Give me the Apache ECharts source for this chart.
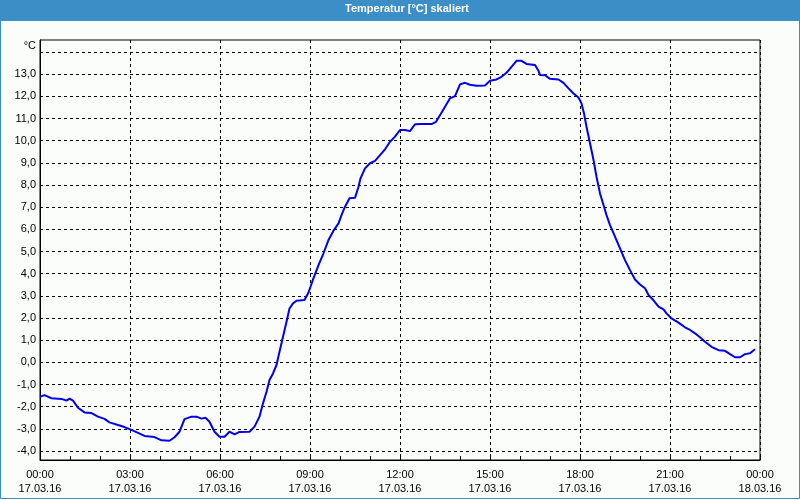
<!DOCTYPE html>
<html>
<head>
<meta charset="utf-8">
<script src="https://cdn.jsdelivr.net/npm/echarts@6/dist/echarts.min.js"></script>
<style>html,body{margin:0;padding:0;background:#fbfdfb;}#c{width:800px;height:500px;}</style>
</head>
<body>
<div id="c"></div>
<script>
// time in minutes since 17.03.16 00:00
const minutes = [0,9,23,43,53,59,66,76,89,103,116,129,139,156,169,183,196,209,229,243,259,269,279,289,303,313,323,331,339,349,359,369,379,389,399,419,429,439,446,453,459,466,473,479,486,493,499,506,513,529,537,547,557,567,577,587,597,603,610,619,630,637,641,650,660,670,680,690,700,710,720,730,740,750,763,783,792,800,810,820,830,840,850,860,873,890,900,913,923,933,943,953,963,973,990,997,1000,1010,1020,1037,1047,1057,1067,1077,1083,1088,1093,1100,1107,1113,1120,1127,1133,1140,1150,1160,1170,1180,1190,1200,1210,1217,1227,1237,1247,1253,1263,1277,1290,1300,1310,1320,1330,1343,1357,1370,1380,1390,1400,1410,1420,1430];
const temps = [-1.55,-1.48,-1.62,-1.65,-1.73,-1.64,-1.73,-2.05,-2.26,-2.29,-2.45,-2.55,-2.71,-2.83,-2.92,-3.05,-3.18,-3.32,-3.37,-3.52,-3.54,-3.38,-3.13,-2.56,-2.45,-2.45,-2.54,-2.50,-2.68,-3.13,-3.36,-3.36,-3.13,-3.25,-3.14,-3.13,-2.90,-2.45,-1.85,-1.33,-0.80,-0.50,-0.12,0.48,1.15,1.83,2.43,2.66,2.78,2.81,3.15,3.80,4.39,4.92,5.52,5.94,6.27,6.64,7.02,7.40,7.42,7.92,8.30,8.75,8.98,9.09,9.35,9.61,9.95,10.18,10.48,10.48,10.43,10.74,10.75,10.75,10.85,11.15,11.53,11.91,12.01,12.54,12.61,12.52,12.48,12.49,12.70,12.76,12.88,13.06,13.33,13.60,13.60,13.46,13.41,13.15,12.96,12.95,12.79,12.76,12.61,12.36,12.13,11.95,11.68,11.23,10.63,9.88,9.13,8.37,7.62,7.10,6.64,6.19,5.67,5.14,4.61,4.16,3.74,3.51,3.34,3.04,2.80,2.51,2.39,2.21,1.98,1.79,1.58,1.46,1.31,1.13,0.93,0.70,0.55,0.52,0.37,0.23,0.23,0.37,0.41,0.59];
const timeLabels = ['00:00','03:00','06:00','09:00','12:00','15:00','18:00','21:00','00:00'];
const dateLabels = ['17.03.16','17.03.16','17.03.16','17.03.16','17.03.16','17.03.16','17.03.16','17.03.16','18.03.16'];
const yTicks = [-4,-3,-2,-1,0,1,2,3,4,5,6,7,8,9,10,11,12,13];
const yGrid = [-4,-3,-2,-1,0,1,2,3,4,5,6,7,8,9,10,11,12,13,14];

const chart = echarts.init(document.getElementById('c'));
const FONT = '"Liberation Sans", Arial, sans-serif';
chart.setOption({
  animation: false,
  backgroundColor: '#fbfdfb',
  title: {
    text: 'Temperatur [°C] skaliert',
    left: 345, top: 3, padding: 0,
    textStyle: {color: '#ffffff', fontWeight: 'bold', fontSize: 11, fontFamily: FONT}
  },
  graphic: [
    {type: 'rect', z: -10, silent: true, shape: {x: 0, y: 0, width: 800, height: 21}, style: {fill: '#3c8fc6'}},
    {type: 'rect', z: -10, silent: true, shape: {x: 0.5, y: 0.5, width: 799, height: 498}, style: {fill: 'none', stroke: '#3c8fc6', lineWidth: 1}},
    {type: 'text', silent: true, right: 764, top: 40, style: {text: '°C', fill: '#000', font: '11px ' + FONT, textAlign: 'right'}}
  ],
  grid: {left: 40, right: 40, top: 40, bottom: 40, show: true, borderColor: '#000', borderWidth: 1, backgroundColor: 'transparent'},
  xAxis: {
    type: 'value', min: 0, max: 1440, interval: 180,
    axisLine: {onZero: false, lineStyle: {color: '#000', width: 1}},
    axisTick: {show: true, inside: true, length: 4, lineStyle: {color: '#000'}},
    minorTick: {show: true, splitNumber: 3, length: 4, lineStyle: {color: '#000'}},
    splitLine: {show: true, lineStyle: {color: '#000', type: [3, 3], width: 1}},
    axisLabel: {
      color: '#000', fontSize: 11, fontFamily: FONT, lineHeight: 14, margin: 8,
      showMinLabel: true, showMaxLabel: true,
      formatter: v => { const i = Math.round(v / 180); return timeLabels[i] + '\n' + dateLabels[i]; }
    }
  },
  yAxis: {
    type: 'value', min: -4.406, max: 14.541,
    axisLine: {show: true, onZero: false, lineStyle: {color: '#000', width: 1}},
    axisTick: {show: false},
    splitLine: {show: false},
    axisLabel: {
      color: '#000', fontSize: 11, fontFamily: FONT, margin: 4,
      customValues: yTicks,
      formatter: v => v.toFixed(1).replace('.', ',')
    }
  },
  series: [
    {
      type: 'line', data: [], silent: true, z: 1,
      markLine: {
        silent: true, symbol: ['none', 'none'], animation: false,
        label: {show: false},
        lineStyle: {color: '#000', type: [3, 3], width: 1},
        data: yGrid.map(v => ({yAxis: v}))
      }
    },
    {
      type: 'line', z: 5,
      data: minutes.map((m, i) => [m, temps[i]]),
      showSymbol: false, smooth: false,
      lineStyle: {color: '#0000ee', width: 2},
      itemStyle: {color: '#0000ee'}
    }
  ]
});
</script>
</body>
</html>
